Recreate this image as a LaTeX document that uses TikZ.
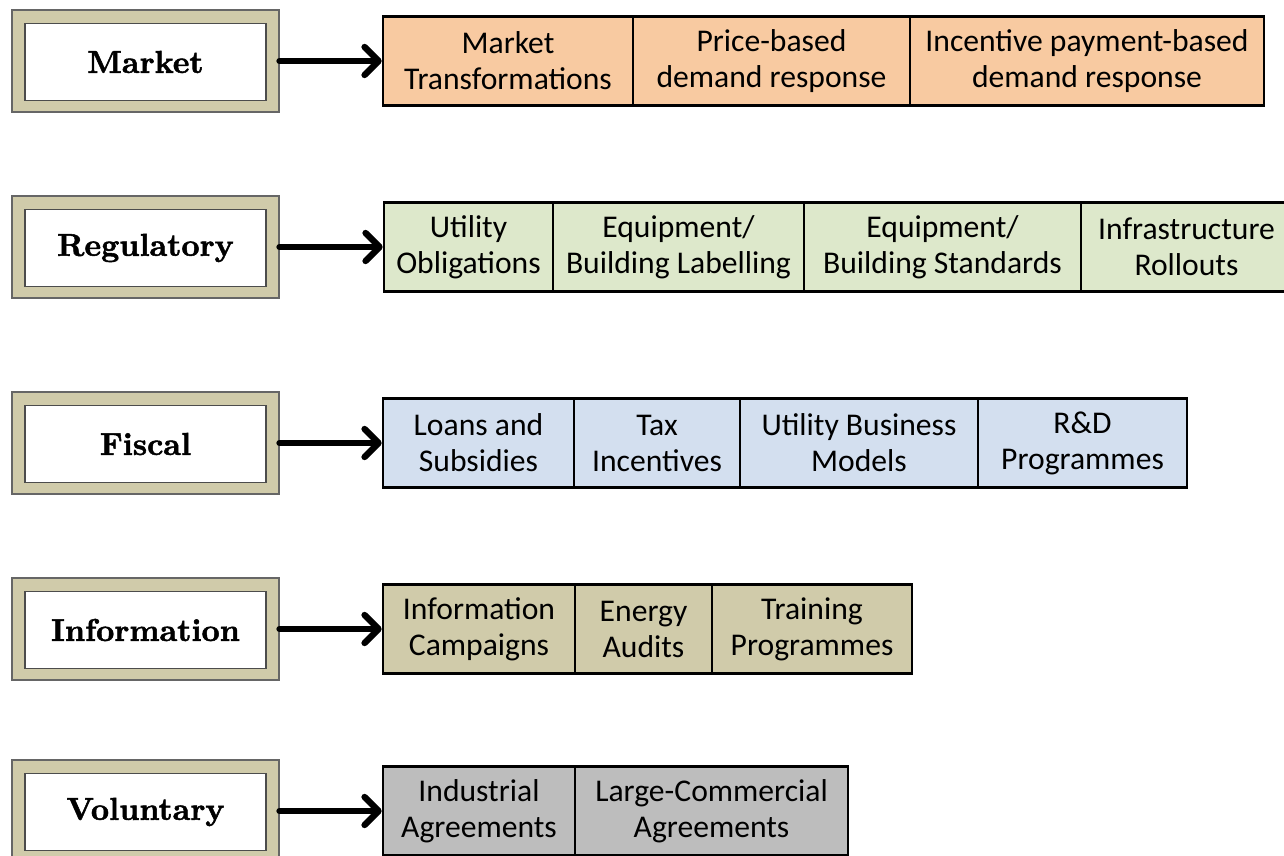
\documentclass[tikz,border=0pt]{standalone}
\usepackage{fontspec}
\newfontfamily\cellfont{Carlito}
\newfontfamily\typefont{lmroman10-bold.otf}[FakeBold=1.6]
\usetikzlibrary{arrows.meta}

\definecolor{peach}{HTML}{F8CAA1}
\definecolor{sage}{HTML}{DDE8CB}
\definecolor{sky}{HTML}{D3DFEF}
\definecolor{khaki}{HTML}{D0CBAA}
\definecolor{ash}{HTML}{BDBDBD}

\tikzset{
  frame/.style={draw=black!60, line width=0.6pt, fill=khaki, minimum width=5.34cm, minimum height=2.04cm},
  policy/.style={draw=black!70, line width=0.9pt, fill=white, minimum width=4.82cm, minimum height=1.54cm,
    font=\typefont\fontsize{18}{21}\selectfont},
  cell/.style={draw, line width=1.5pt, minimum height=1.78cm, inner sep=0pt, align=center,
    font=\cellfont\fontsize{18}{20.5}\selectfont},
  feed/.style={line width=3.6pt, line cap=round, -{Straight Barb[length=2.8mm, width=5.6mm, round]}}
}

\begin{document}
\begin{tikzpicture}[x=0.02cm, y=-0.02cm]
          \useasboundingbox (0,0) rectangle (1284,855);
          \clip (0,0) rectangle (1284,855);

          % Policy types (double framed boxes)
          \node[frame] (Mf) at (145.5, 61) {};
          \node[policy] (M) at (145.5, 62) {Market};
          \node[frame] (Rf) at (145.5, 247) {};
          \node[policy] (R) at (145.5, 248) {Regulatory};
          \node[frame] (Ff) at (145.5, 443) {};
          \node[policy] (F) at (145.5, 444) {Fiscal};
          \node[frame] (If) at (145.5, 629) {};
          \node[policy] (I) at (145.5, 630) {Information};
          \node[frame] (Vf) at (145.5, 811) {};
          \node[policy] (V) at (145.5, 812) {Voluntary};

          % Market instruments
          \node[cell, fill=peach, minimum width=5.00cm] (M1) at (508, 61) {Market\\Transformations};
          \node[cell, fill=peach, minimum width=5.54cm] (M2) at (771.5, 61) {Price-based\\demand response};
          \node[cell, fill=peach, minimum width=7.08cm] (M3) at (1087, 61) {Incentive payment-based\\demand response};

          % Regulatory instruments
          \node[cell, fill=sage, minimum width=3.38cm] (R1) at (468.5, 247) {Utility\\Obligations};
          \node[cell, fill=sage, minimum width=5.02cm] (R2) at (678.5, 247) {Equipment/\\Building Labelling};
          \node[cell, fill=sage, minimum width=5.54cm] (R3) at (942.5, 247) {Equipment/\\Building Standards};
          \node[cell, fill=sage, minimum width=4.22cm] (R4) at (1186.5, 247) {Infrastructure\\Rollouts};

          % Fiscal instruments
          \node[cell, fill=sky, minimum width=3.82cm] (F1) at (478.5, 443) {Loans and\\Subsidies};
          \node[cell, fill=sky, minimum width=3.32cm] (F2) at (657, 443) {Tax\\Incentives};
          \node[cell, fill=sky, minimum width=4.76cm] (F3) at (859, 443) {Utility Business\\Models};
          \node[cell, fill=sky, minimum width=4.18cm] (F4) at (1082.5, 443) {R\&D\\Programmes};

          % Information instruments
          \node[cell, fill=khaki, minimum width=3.84cm] (I1) at (479, 629) {Information\\Campaigns};
          \node[cell, fill=khaki, minimum width=2.74cm] (I2) at (643.5, 629) {Energy\\Audits};
          \node[cell, fill=khaki, minimum width=4.00cm] (I3) at (812, 629) {Training\\Programmes};

          % Voluntary instruments
          \node[cell, fill=ash, minimum width=3.84cm] (V1) at (479, 811) {Industrial\\Agreements};
          \node[cell, fill=ash, minimum width=5.46cm] (V2) at (711.5, 811) {Large-Commercial\\Agreements};

          % Arrows
          \draw [feed] (Mf.east) -- (M1.west);
          \draw [feed] (Rf.east) -- (R1.west);
          \draw [feed] (Ff.east) -- (F1.west);
          \draw [feed] (If.east) -- (I1.west);
          \draw [feed] (Vf.east) -- (V1.west);
        \end{tikzpicture}
\end{document}
